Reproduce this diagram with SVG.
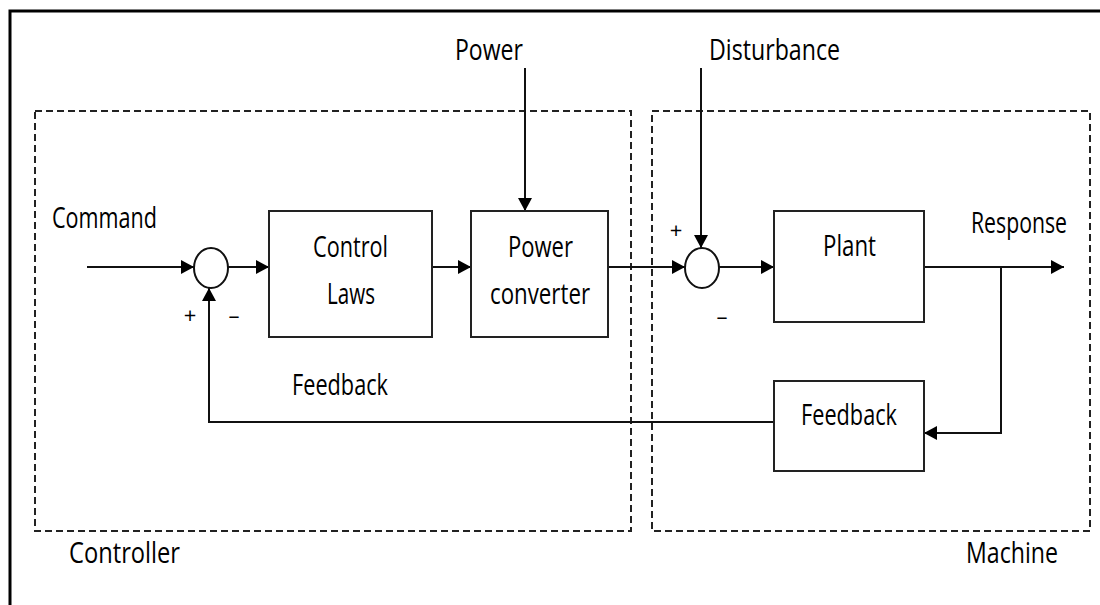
<svg xmlns="http://www.w3.org/2000/svg" width="1100" height="605" viewBox="0 0 1100 605">
<defs>
<marker id="ah" viewBox="0 0 13 14" refX="13" refY="7" markerWidth="13" markerHeight="14" markerUnits="userSpaceOnUse" orient="auto">
<path d="M0,0 L13,7 L0,14 Z" fill="#000"/>
</marker>
</defs>
<style>
.blk{fill:#fff;stroke:#222;stroke-width:2}
.dash{fill:none;stroke:#222;stroke-width:2;stroke-dasharray:7 4}
.ln{fill:none;stroke:#111;stroke-width:2}
.arr{fill:none;stroke:#111;stroke-width:2;marker-end:url(#ah)}
text{font-family:"Open Sans","Noto Sans",sans-serif;font-size:29px;fill:#000}
.sg{font-size:22px}
</style>
<rect x="0" y="0" width="1100" height="605" fill="#fff"/>
<rect x="10" y="11" width="1100" height="620" fill="none" stroke="#000" stroke-width="3"/>
<g id="controller-region">
<rect class="dash" x="35" y="111" width="596" height="420"/>
<text x="69" y="563" textLength="111" lengthAdjust="spacingAndGlyphs">Controller</text>
</g>
<g id="machine-region">
<rect class="dash" x="652" y="111" width="438" height="420"/>
<text x="966" y="563" textLength="92" lengthAdjust="spacingAndGlyphs">Machine</text>
</g>
<g id="connectors">
<line class="arr" x1="87" y1="267" x2="194" y2="267"/>
<line class="arr" x1="228" y1="267" x2="269" y2="267"/>
<line class="arr" x1="432" y1="267" x2="471" y2="267"/>
<line class="arr" x1="608" y1="267" x2="685" y2="267"/>
<line class="arr" x1="718" y1="267" x2="774" y2="267"/>
<line class="arr" x1="924" y1="267" x2="1064" y2="267"/>
<line class="arr" x1="525" y1="68" x2="525" y2="211"/>
<line class="arr" x1="701" y1="68" x2="701" y2="248"/>
<polyline class="arr" points="1001,267 1001,433 924,433"/>
<polyline class="arr" points="774,422 209,422 209,288"/>
</g>
<g id="sum1">
<ellipse cx="211" cy="268" rx="17" ry="20" fill="#fff" stroke="#111" stroke-width="2"/>
<text class="sg" x="190" y="323" text-anchor="middle">+</text>
<text class="sg" x="234" y="323" text-anchor="middle">–</text>
</g>
<g id="sum2">
<ellipse cx="702" cy="268" rx="17" ry="20" fill="#fff" stroke="#111" stroke-width="2"/>
<text class="sg" x="676" y="238" text-anchor="middle">+</text>
<text class="sg" x="722" y="324" text-anchor="middle">–</text>
</g>
<g id="control-laws">
<rect class="blk" x="269" y="211" width="163" height="126"/>
<text x="313" y="257" textLength="75" lengthAdjust="spacingAndGlyphs">Control</text>
<text x="327" y="304" textLength="48" lengthAdjust="spacingAndGlyphs">Laws</text>
</g>
<g id="power-converter">
<rect class="blk" x="471" y="211" width="137" height="126"/>
<text x="508" y="257" textLength="65" lengthAdjust="spacingAndGlyphs">Power</text>
<text x="490" y="304" textLength="100" lengthAdjust="spacingAndGlyphs">converter</text>
</g>
<g id="plant">
<rect class="blk" x="774" y="211" width="150" height="111"/>
<text x="823" y="256" textLength="53" lengthAdjust="spacingAndGlyphs">Plant</text>
</g>
<g id="feedback">
<rect class="blk" x="774" y="381" width="150" height="90"/>
<text x="801" y="425" textLength="96" lengthAdjust="spacingAndGlyphs">Feedback</text>
</g>
<g id="labels">
<text x="455" y="60" textLength="68" lengthAdjust="spacingAndGlyphs">Power</text>
<text x="709" y="60" textLength="131" lengthAdjust="spacingAndGlyphs">Disturbance</text>
<text x="52" y="228" textLength="105" lengthAdjust="spacingAndGlyphs">Command</text>
<text x="971" y="233" textLength="96" lengthAdjust="spacingAndGlyphs">Response</text>
<text x="292" y="395" textLength="96" lengthAdjust="spacingAndGlyphs">Feedback</text>
</g>
</svg>
